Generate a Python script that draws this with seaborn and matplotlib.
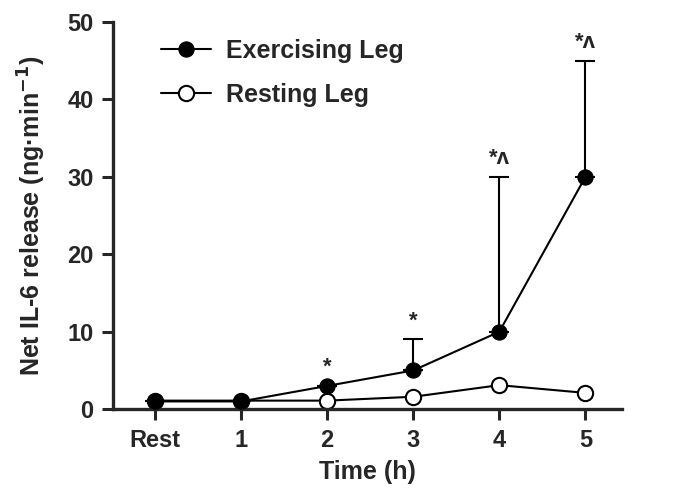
import numpy as np
import pandas as pd
import matplotlib
matplotlib.use("Agg")
import matplotlib.pyplot as plt
import seaborn as sns

sns.set_style("ticks")
plt.rcParams['font.family'] = ['Liberation Sans', 'DejaVu Sans']
plt.rcParams['font.weight'] = 'bold'
plt.rcParams['mathtext.default'] = 'bf'

time_labels = ["Rest", "1", "2", "3", "4", "5"]
exercising = [1.0, 1.0, 3.0, 5.0, 10.0, 30.0]
exercising_err = [0, 0, 0, 4.0, 20.0, 15.0]
resting = [1.1, 1.1, 1.1, 1.6, 3.1, 2.1]
sig_labels = ["", "", "*", "*", "*^", "*^"]

df = pd.DataFrame({
    "pos": list(range(len(time_labels))) * 2,
    "value": exercising + resting,
    "leg": ["Exercising Leg"] * 6 + ["Resting Leg"] * 6,
})

fig = plt.figure(figsize=(6.84, 4.9), dpi=100)
ax = fig.add_axes([0.165, 0.165, 0.745, 0.79])

# error bars (upper only) for exercising leg
ax.errorbar(range(6), exercising, yerr=[np.zeros(6), exercising_err],
            fmt="none", ecolor="black", elinewidth=1.5, capsize=7, capthick=1.5, zorder=1)

sns.lineplot(data=df[df.leg == "Resting Leg"], x="pos", y="value", ax=ax,
             color="black", lw=1.5, marker="o", markersize=11,
             markerfacecolor="white", markeredgecolor="black", markeredgewidth=1.5,
             label="Resting Leg", zorder=2)
sns.lineplot(data=df[df.leg == "Exercising Leg"], x="pos", y="value", ax=ax,
             color="black", lw=1.5, marker="o", markersize=11,
             markerfacecolor="black", markeredgecolor="black",
             label="Exercising Leg", zorder=3)

for i, s in enumerate(sig_labels):
    if s:
        top = exercising[i] + exercising_err[i]
        ax.text(i, top + 1.0, s.replace("^", "\u028c"), ha="center", va="bottom",
                fontsize=16, fontweight="bold")

ax.set_xlim(-0.49, 5.43)
ax.set_ylim(0, 50)
ax.set_xticks(range(6))
ax.set_xticklabels(time_labels)
ax.set_yticks([0, 10, 20, 30, 40, 50])
ax.tick_params(axis="both", labelsize=17, width=2.2, length=8, direction="out", pad=6)
for t in ax.get_xticklabels() + ax.get_yticklabels():
    t.set_fontweight("bold")
for sp in ["left", "bottom"]:
    ax.spines[sp].set_linewidth(2.4)
sns.despine(ax=ax)

ax.set_xlabel("Time (h)", fontsize=18, fontweight="bold", labelpad=6)
ax.set_ylabel("Net IL-6 release (ng\u00b7min$^{-1}$)", fontsize=18, fontweight="bold", labelpad=14)

h, l = ax.get_legend_handles_labels()
order = [l.index("Exercising Leg"), l.index("Resting Leg")]
ax.legend([h[i] for i in order], [l[i] for i in order], loc="upper left",
          bbox_to_anchor=(0.05, 1.015), frameon=False, handlelength=2.0,
          handletextpad=0.6, labelspacing=0.8, prop={"weight": "bold", "size": 18})

fig.savefig("out.png", dpi=100)
